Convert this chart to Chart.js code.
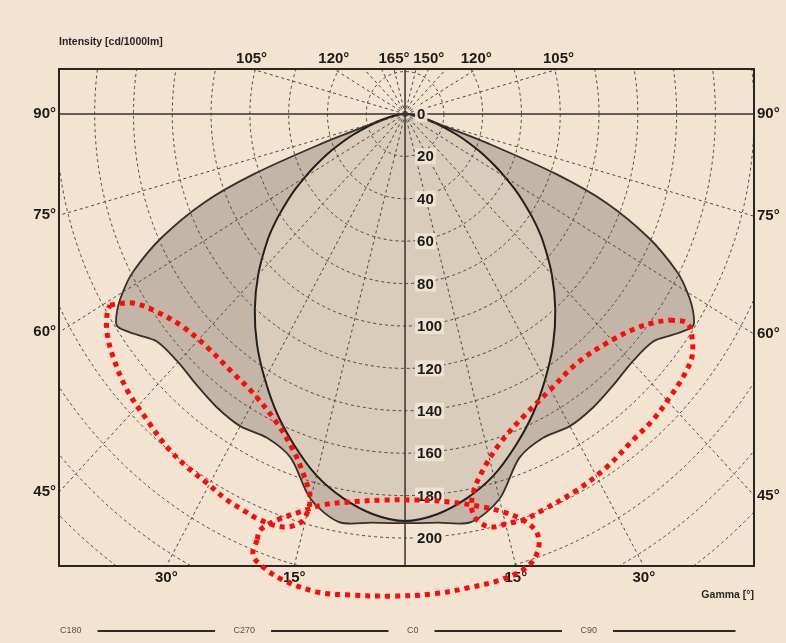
<!DOCTYPE html>
<html>
<head>
<meta charset="utf-8">
<script src="https://cdn.jsdelivr.net/npm/chart.js@4.4.1/dist/chart.umd.min.js"></script>
<style>
  html, body { margin: 0; padding: 0; background: #F3E4D1; }
  #wrap { width: 786px; height: 643px; position: relative; }
</style>
</head>
<body>
<div id="wrap"><canvas id="polar" width="786" height="643"></canvas></div>
<script>
// ---- data (gamma in degrees, intensity in cd/1000lm) ----
const gamma            = [0, 5, 10, 15, 20, 25, 30, 35, 40, 45, 50, 53, 56, 58, 60, 62, 65, 68, 70, 72, 74, 77, 80, 85, 90];
const intensityC0C180  = [192, 189.5, 184, 176.5, 166.5, 156, 144.5, 133, 120.5, 107, 92.5, 83, 73, 66.5, 59.5, 53, 43.5, 34, 28, 22, 17, 11, 6, 2, 0];
const intensityC90C270 = [193, 193.5, 195.5, 188, 172.5, 168.5, 170, 169, 167, 165.5, 167, 173, 179, 175, 168, 159, 139, 112, 83, 45, 22, 13, 8, 4, 0];

const radiusTicks  = [0, 20, 40, 60, 80, 100, 120, 140, 160, 180, 200];
const spokeAngles  = [15, 30, 45, 60, 75, 105, 120, 135, 150, 165];
const sideTicks    = [90, 75, 60, 45];
const bottomTicks  = [30, 15];
const topTicksLeft  = [105, 120, 165];
const topTicksRight = [150, 120, 105];
const legendPlanes = ['C180', 'C270', 'C0', 'C90'];

// red dotted highlight loops, [x, y] in cd/1000lm
const markLeft = [[-152.1,-90.1],[-140.2,-89.2],[-127.8,-93.4],[-114.4,-100.5],[-102.1,-109.9],[-88.7,-122.2],[-78.4,-131.6],[-66.0,-145.8],[-57.7,-158.5],[-52.6,-169.3],[-49.0,-180.7],[-50.5,-188.2],[-54.1,-192.9],[-62.9,-194.8],[-74.7,-191.5],[-83.5,-186.8],[-91.8,-182.1],[-102.1,-174.1],[-112.4,-166.5],[-122.7,-157.1],[-133.0,-144.3],[-143.3,-130.2],[-150.5,-114.6],[-153.6,-103.3],[-153.6,-93.9],[-152.1,-90.1]];
const markRight = [[136.6,-97.2],[145.4,-98.6],[147.9,-105.2],[147.9,-114.6],[143.3,-124.1],[136.6,-133.5],[127.8,-144.3],[117.5,-153.8],[104.1,-166.5],[88.7,-177.4],[71.1,-186.8],[60.8,-191.5],[54.1,-192.9],[43.8,-194.8],[37.1,-191.5],[34.5,-186.8],[35.1,-178.8],[40.2,-167.9],[49.0,-155.2],[60.8,-142.9],[74.7,-130.2],[88.7,-117.5],[104.1,-108.0],[119.6,-100.9],[129.9,-98.1],[136.6,-97.2]];
const markBottom = [[-76.3,-200.9],[-78.4,-208.0],[-73.2,-213.7],[-62.9,-219.8],[-45.4,-225.5],[-28.4,-226.9],[-6.2,-227.4],[14.4,-226.4],[32.0,-223.6],[49.0,-219.8],[62.9,-213.7],[68.6,-205.7],[68.0,-197.6],[60.8,-191.5],[50.5,-187.7],[40.2,-185.4],[23.2,-183.0],[6.2,-182.1],[-11.3,-182.1],[-28.4,-183.0],[-42.3,-184.4],[-54.1,-187.7],[-66.0,-191.5],[-74.7,-196.2],[-76.3,-200.9]];

const FONT = '"Liberation Sans", Arial, sans-serif';
const rad = d => d * Math.PI / 180;

// gamma 0 points down; side +1 = C0/C90 half, -1 = C180/C270 half
function polar(g, i, side) {
  return { x: side * i * Math.sin(rad(g)), y: -i * Math.cos(rad(g)) };
}
function outline(intens) {
  const pts = [];
  for (let k = gamma.length - 1; k >= 0; k--) pts.push(polar(gamma[k], intens[k], 1));
  for (let k = 1; k < gamma.length; k++) pts.push(polar(gamma[k], intens[k], -1));
  return pts;
}
const xy = arr => arr.map(p => ({ x: p[0], y: p[1] }));

const ELLIPSE = 3;

function borderHit(chart, g, side) {
  const { chartArea: a, scales: { x, y } } = chart;
  const cx = x.getPixelForValue(0), cy = y.getPixelForValue(0);
  const d = polar(g, 1, side);
  const dx = x.getPixelForValue(d.x) - cx, dy = y.getPixelForValue(d.y) - cy;
  let t = Infinity;
  if (dx > 1e-9) t = Math.min(t, (a.right - cx) / dx);
  if (dx < -1e-9) t = Math.min(t, (a.left - cx) / dx);
  if (dy > 1e-9) t = Math.min(t, (a.bottom - cy) / dy);
  if (dy < -1e-9) t = Math.min(t, (a.top - cy) / dy);
  return { x: cx + dx * t, y: cy + dy * t };
}

const polarGrid = {
  id: 'polarGrid',
  afterDatasetDraw(chart, args) {
    if (args.index !== ELLIPSE) return;
    const { ctx, chartArea: a, scales: { x, y } } = chart;
    const cx = x.getPixelForValue(0), cy = y.getPixelForValue(0);
    ctx.save();
    ctx.beginPath(); ctx.rect(a.left, a.top, a.right - a.left, a.bottom - a.top); ctx.clip();
    ctx.setLineDash([3, 3]);
    ctx.strokeStyle = '#4f4741';
    ctx.lineWidth = 1;
    const step = radiusTicks[1] - radiusTicks[0];
    for (let r = step; r <= 320; r += step) {
      const rx = x.getPixelForValue(r) - cx, ry = cy - y.getPixelForValue(r);
      ctx.beginPath(); ctx.ellipse(cx, cy, rx, ry, 0, 0, Math.PI * 2); ctx.stroke();
    }
    for (const g of spokeAngles) for (const s of [-1, 1]) {
      const p = borderHit(chart, g, s);
      ctx.beginPath(); ctx.moveTo(cx, cy); ctx.lineTo(p.x, p.y); ctx.stroke();
    }
    ctx.setLineDash([]);
    ctx.strokeStyle = '#3a332e';
    ctx.lineWidth = 1.5;
    ctx.beginPath();
    ctx.moveTo(a.left, cy); ctx.lineTo(a.right, cy);
    ctx.moveTo(cx, a.top); ctx.lineTo(cx, a.bottom);
    ctx.stroke();
    ctx.restore();

    ctx.save();
    ctx.strokeStyle = '#2a2522';
    ctx.lineWidth = 2;
    ctx.strokeRect(a.left, a.top, a.right - a.left, a.bottom - a.top);

    // intensity labels along the C0 axis
    ctx.font = 'bold 15px ' + FONT;
    ctx.textBaseline = 'middle';
    ctx.textAlign = 'left';
    for (const r of radiusTicks) {
      const ty = y.getPixelForValue(-r);
      const w = ctx.measureText(String(r)).width;
      ctx.fillStyle = 'rgba(240,228,212,0.92)';
      ctx.fillRect(cx + 10, ty - 8, w + 4, 16);
      ctx.fillStyle = '#1e1a17';
      ctx.fillText(String(r), cx + 12, ty + 1);
    }

    // gamma labels on the frame
    ctx.fillStyle = '#1e1a17';
    for (const g of sideTicks) {
      const l = borderHit(chart, g, -1), r = borderHit(chart, g, 1);
      ctx.textAlign = 'right'; ctx.fillText(g + '°', a.left - 3, l.y);
      ctx.textAlign = 'left';  ctx.fillText(g + '°', a.right + 3, r.y);
    }
    ctx.textAlign = 'center';
    for (const g of bottomTicks) {
      for (const s of [-1, 1]) {
        const p = borderHit(chart, g, s);
        ctx.fillText(g + '°', p.x, a.bottom + 12);
      }
    }
    for (const g of topTicksLeft) {
      const p = borderHit(chart, g, -1);
      ctx.fillText(g + '°', p.x, a.top - 10);
    }
    for (const g of topTicksRight) {
      const p = borderHit(chart, g, 1);
      ctx.fillText(g + '°', p.x, a.top - 10);
    }
    ctx.restore();
  },
  afterDraw(chart) {
    const { ctx, chartArea: a } = chart;
    ctx.save();
    ctx.fillStyle = '#2a2522';
    ctx.textBaseline = 'middle';
    ctx.font = 'bold 10.5px ' + FONT;
    ctx.textAlign = 'left';
    ctx.fillText('Intensity [cd/1000lm]', a.left, 42);
    ctx.textAlign = 'right';
    ctx.fillText('Gamma [°]', a.right, 595);

    ctx.font = '9px ' + FONT;
    ctx.textAlign = 'left';
    legendPlanes.forEach((name, i) => {
      const tx = 60 + i * 173.5;
      ctx.fillStyle = '#5a524b';
      ctx.fillText(name, tx, 631);
      const w = ctx.measureText(name).width;
      ctx.strokeStyle = '#2f2924';
      ctx.lineWidth = 2;
      ctx.beginPath(); ctx.moveTo(tx + w + 16, 631); ctx.lineTo(tx + 155, 631); ctx.stroke();
    });
    ctx.restore();
  }
};

const mark = pts => ({
  data: xy(pts), order: 0, clip: false, fill: false,
  borderColor: '#ff0a0a', borderWidth: 5, borderDash: [5, 5], tension: 0.35
});

new Chart(document.getElementById('polar'), {
  type: 'line',
  data: {
    datasets: [
      mark(markLeft),
      mark(markRight),
      mark(markBottom),
      { label: 'C0 / C180', data: outline(intensityC0C180), order: 1, fill: 'shape',
        backgroundColor: '#D9CCBB', borderColor: '#231f1c', borderWidth: 2, tension: 0.3 },
      { label: 'C90 / C270', data: outline(intensityC90C270), order: 2, fill: 'shape',
        backgroundColor: '#C4B6A6', borderColor: '#35302b', borderWidth: 1.8, tension: 0.3 }
    ]
  },
  options: {
    responsive: false,
    devicePixelRatio: 1,
    animation: false,
    layout: { padding: { left: 59, right: 32, top: 69, bottom: 77 } },
    elements: { point: { radius: 0 }, line: { capBezierPoints: false } },
    scales: {
      x: { type: 'linear', min: -178.4, max: 179.9, display: false },
      y: { type: 'linear', min: -213.2, max: 21.2, display: false }
    },
    plugins: { legend: { display: false }, tooltip: { enabled: false } }
  },
  plugins: [polarGrid]
});
</script>
</body>
</html>
